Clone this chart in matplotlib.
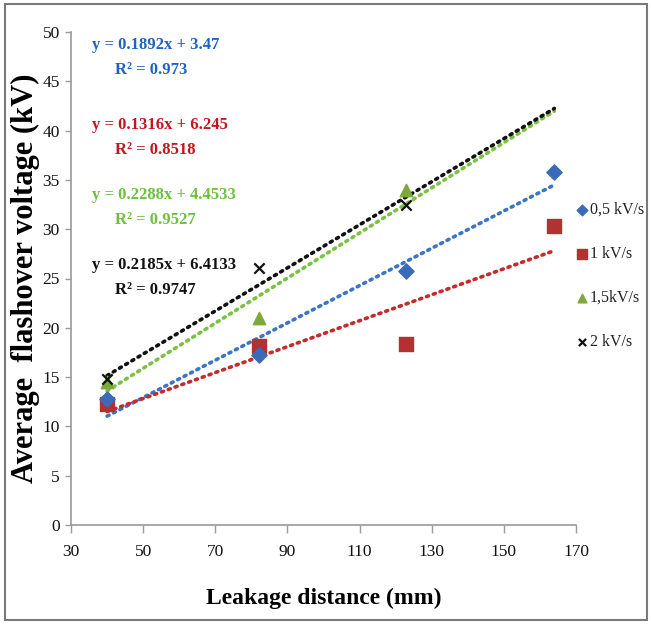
import matplotlib
matplotlib.use("Agg")
import matplotlib.pyplot as plt
import numpy as np
from matplotlib.patches import Rectangle

plt.rcParams['font.family'] = ['Liberation Serif', 'DejaVu Serif']

# Leakage distance (mm) and average flashover voltage (kV) per ramp rate
distance = [40, 82, 123, 164]
v_05 = [12.8, 17.2, 25.8, 35.8]
v_1 = [12.3, 18.2, 18.4, 30.3]
v_15 = [14.5, 21.0, 34.0]
v_2 = [14.8, 26.1, 32.5]

series_labels = ["0,5 kV/s", "1 kV/s", "1,5kV/s", "2 kV/s"]

# Linear trendline coefficients (slope, intercept, R²)
fit_05 = (0.1892, 3.47, "0.973")
fit_1 = (0.1316, 6.245, "0.8518")
fit_15 = (0.2288, 4.4533, "0.9527")
fit_2 = (0.2185, 6.4133, "0.9747")

x_ticks = [30, 50, 70, 90, 110, 130, 150, 170]
y_ticks = [0, 5, 10, 15, 20, 25, 30, 35, 40, 45, 50]

marker_colors = ["#3A6BB8", "#B23232", "#7DA83A", "#111111"]
line_colors = ["#3C74C8", "#C42B2B", "#7CC242", "#111111"]
text_colors = ["#1F62C0", "#C0171F", "#6CC03C", "#111111"]

fig = plt.figure(figsize=(6.51, 6.24), dpi=100)
ax = fig.add_axes([71 / 651, 1 - 525 / 624, 505 / 651, 493 / 624])

fits = [fit_05, fit_1, fit_15, fit_2]
xs_line = np.array([distance[0], distance[-1]], dtype=float)
for (m, b, _), c in zip(fits, line_colors):
    ax.plot(xs_line, m * xs_line + b, color=c, linewidth=2.6,
            linestyle=(0, (0.6, 1.4)), dash_capstyle='round', zorder=2)

ax.scatter(distance, v_05, marker='D', s=60, color=marker_colors[0], zorder=4,
           label=series_labels[0])
ax.scatter(distance, v_1, marker='s', s=100, color=marker_colors[1], zorder=3,
           label=series_labels[1])
ax.scatter(distance[:3], v_15, marker='^', s=80, color=marker_colors[2], zorder=4,
           label=series_labels[2])
ax.scatter(distance[:3], v_2, marker='x', s=55, color=marker_colors[3],
           linewidths=1.6, zorder=5, label=series_labels[3])

ax.set_xlim(30, 170)
ax.set_ylim(0, 50)
ax.set_xticks(x_ticks)
ax.set_yticks(y_ticks)
ax.tick_params(axis='both', colors='#9a9a9a', labelcolor='#111111',
               labelsize=12.5, width=1, direction='out')
ax.tick_params(axis='x', length=6, pad=8)
ax.tick_params(axis='y', length=4, pad=4)
for s in ['top', 'right']:
    ax.spines[s].set_visible(False)
for s in ['left', 'bottom']:
    ax.spines[s].set_color('#9a9a9a')
    ax.spines[s].set_linewidth(1.2)

ax.set_xlabel("Leakage distance (mm)", fontsize=17, fontweight='bold')
ax.set_ylabel("Average  flashover voltage (kV)", fontsize=22, fontweight='bold')
ax.xaxis.set_label_coords(0.5, -0.127)
ax.yaxis.set_label_coords(-0.062, 0.5)

# Trendline equations
eq_y = [45, 125, 195, 265]
for (m, b, r2), c, py in zip(fits, text_colors, eq_y):
    eq = f"y = {m}x + {b}"
    fig.text(92 / 651, 1 - py / 624, eq, color=c, fontsize=12,
             fontweight='bold', ha='left', va='center')
    fig.text(115 / 651, 1 - (py + 25) / 624, f"R² = {r2}", color=c,
             fontsize=12, fontweight='bold', ha='left', va='center')

leg = ax.legend(loc='upper left', bbox_to_anchor=(576 / 651, 1 - 202 / 624),
                bbox_transform=fig.transFigure, frameon=False, fontsize=11.5,
                handletextpad=0.05, handlelength=0.8, labelspacing=1.75,
                borderaxespad=0, borderpad=0, markerscale=0.7)
for t in leg.get_texts():
    t.set_color('#222222')

fig.add_artist(Rectangle((5 / 651, 4 / 624), 642 / 651, 616 / 624,
                         transform=fig.transFigure, fill=False,
                         edgecolor='#7a7a7a', linewidth=1.5))

fig.savefig("out.png", dpi=100)
